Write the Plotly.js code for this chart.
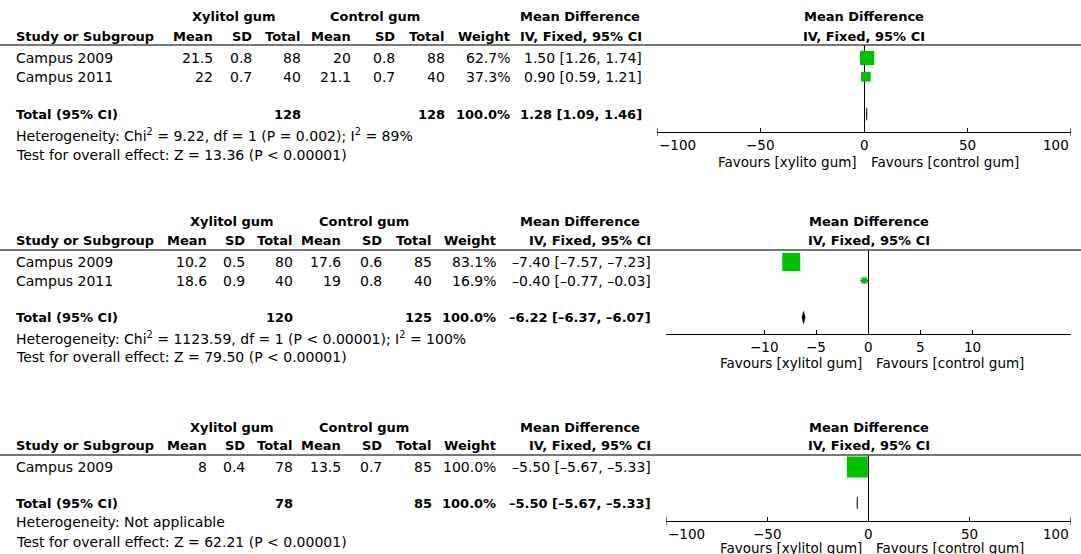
<!DOCTYPE html>
<html>
<head>
<meta charset="utf-8">
<script src="https://cdn.plot.ly/plotly-3.0.1.min.js"></script>
<style>html,body{margin:0;padding:0;background:#fff;}#chart{width:1081px;height:554px;}</style>
</head>
<body>
<div id="chart"></div>
<script>
// ---------- data ----------
const studyPanel = [0, 0, 1, 1, 2];
const studyName  = ["Campus 2009", "Campus 2011", "Campus 2009", "Campus 2011", "Campus 2009"];
const xylMean    = [21.5, 22, 10.2, 18.6, 8];
const xylSD      = [0.8, 0.7, 0.5, 0.9, 0.4];
const xylTotal   = [88, 40, 80, 40, 78];
const ctlMean    = [20, 21.1, 17.6, 19, 13.5];
const ctlSD      = [0.8, 0.7, 0.6, 0.8, 0.7];
const ctlTotal   = [88, 40, 85, 40, 85];
const weightPct  = [62.7, 37.3, 83.1, 16.9, 100.0];
const meanDiff   = [1.50, 0.90, -7.40, -0.40, -5.50];
const ciLow      = [1.26, 0.59, -7.57, -0.77, -5.67];
const ciHigh     = [1.74, 1.21, -7.23, -0.03, -5.33];

const totXyl     = [128, 120, 78];
const totCtl     = [128, 125, 85];
const totWeight  = [100.0, 100.0, 100.0];
const totMD      = [1.28, -6.22, -5.50];
const totLow     = [1.09, -6.37, -5.67];
const totHigh    = [1.46, -6.07, -5.33];

const heterogeneity = [
  "Heterogeneity: Chi<sup>2</sup> = 9.22, df = 1 (P = 0.002); I<sup>2</sup> = 89%",
  "Heterogeneity: Chi<sup>2</sup> = 1123.59, df = 1 (P < 0.00001); I<sup>2</sup> = 100%",
  "Heterogeneity: Not applicable"
];
const overallEffect = [
  "Test for overall effect: Z = 13.36 (P < 0.00001)",
  "Test for overall effect: Z = 79.50 (P < 0.00001)",
  "Test for overall effect: Z = 62.21 (P < 0.00001)"
];
const favoursLeft  = ["Favours [xylito gum]", "Favours [xylitol gum]", "Favours [xylitol gum]"];
const favoursRight = ["Favours [control gum]", "Favours [control gum]", "Favours [control gum]"];
const tickVals = [[-100, -50, 0, 50, 100], [-10, -5, 0, 5, 10], [-100, -50, 0, 50, 100]];
const colHeaders = ["Mean", "SD", "Total", "Mean", "SD", "Total", "Weight", "IV, Fixed, 95% CI"];

// ---------- layout geometry (pixels) ----------
const W = 1081, H = 554;
const FONT = "DejaVu Sans";
const geo = [
  {h1: 17, h2: 36, line: 45, row0: 58, sp: 18.7, het: 135, test: 155, axisY: 132, favY: 162,
   cols: [215, 254, 303, 353, 397, 447, 512, 644], xylC: 234, ctlC: 375, mdL: 518,
   dom: [657, 1071], range: [-100, 100], caps: true},
  {h1: 222, h2: 241, line: 250, row0: 262, sp: 18.5, het: 338, test: 357, axisY: 334, favY: 363,
   cols: [209, 247, 295, 343, 384, 434, 498, 653], xylC: 232, ctlC: 364, mdL: 518,
   dom: [666, 1071], range: [-19.4, 19.4], caps: false},
  {h1: 427, h2: 445, line: 455, row0: 467, sp: 18, het: 522, test: 542, axisY: 521, favY: 548,
   cols: [209, 247, 295, 343, 384, 434, 498, 653], xylC: 232, ctlC: 364, mdL: 518,
   dom: [666, 1071], range: [-100, 100], caps: true}
];

const fx = v => v / W;
const fy = v => 1 - v / H;
const dash = v => (v < 0 ? "\u2013" : "") + Math.abs(v).toFixed(2);
const ciStr = (m, l, h) => dash(m) + " [" + dash(l) + ", " + dash(h) + "]";
const tickStr = v => (v < 0 ? "\u2212" : "") + Math.abs(v);

function ann(text, x, y, anchor, bold, extra) {
  const a = {
    text: bold ? "<b>" + text + "</b>" : text,
    xref: "paper", yref: "paper", x: fx(x), y: fy(y),
    xanchor: anchor, yanchor: "middle", showarrow: false,
    font: {family: FONT, size: bold ? 13 : 14, color: "#000"}
  };
  return Object.assign(a, extra || {});
}

const annotations = [];
const shapes = [];
const traces = [];
const layout = {
  width: W, height: H,
  margin: {l: 0, r: 0, t: 0, b: 0},
  paper_bgcolor: "#fff", plot_bgcolor: "rgba(0,0,0,0)",
  showlegend: false,
  font: {family: FONT, color: "#000"}
};

geo.forEach((g, p) => {
  const sfx = p === 0 ? "" : String(p + 1);
  const xa = "x" + sfx, ya = "y" + sfx;
  const idx = studyPanel.map((v, i) => v === p ? i : -1).filter(i => i >= 0);
  const nRows = idx.length;
  const rowPx = r => g.row0 + r * g.sp;
  const totalRow = nRows + 1;

  // header line
  shapes.push({type: "line", xref: "paper", yref: "paper", x0: 0, x1: 1, y0: fy(g.line), y1: fy(g.line),
    line: {color: "#4a4a4a", width: 1.5}});

  // headers
  annotations.push(ann("Xylitol gum", g.xylC, g.h1, "center", true));
  annotations.push(ann("Control gum", g.ctlC, g.h1, "center", true));
  annotations.push(ann("Mean Difference", g.mdL, g.h1, "left", true));
  annotations.push(ann("Study or Subgroup", 14, g.h2, "left", true));
  colHeaders.forEach((c, k) => annotations.push(ann(c, g.cols[k], g.h2, "right", true)));
  annotations.push(ann("<b>Mean Difference</b>", 0, g.h1, "center", false,
    {xref: xa, x: 0, font: {family: FONT, size: 13, color: "#000"}}));
  annotations.push(ann("<b>IV, Fixed, 95% CI</b>", 0, g.h2, "center", false,
    {xref: xa, x: 0, font: {family: FONT, size: 13, color: "#000"}}));

  // study rows
  idx.forEach((i, r) => {
    const y = rowPx(r);
    const vals = [String(xylMean[i]), xylSD[i].toFixed(1), String(xylTotal[i]),
                  String(ctlMean[i]), ctlSD[i].toFixed(1), String(ctlTotal[i]),
                  weightPct[i].toFixed(1) + "%", ciStr(meanDiff[i], ciLow[i], ciHigh[i])];
    annotations.push(ann(studyName[i], 14, y, "left", false));
    vals.forEach((v, k) => annotations.push(ann(v, g.cols[k], y, "right", false)));
  });

  // total row
  const ty = rowPx(totalRow);
  annotations.push(ann("Total (95% CI)", 14, ty, "left", true));
  annotations.push(ann(String(totXyl[p]), g.cols[2], ty, "right", true));
  annotations.push(ann(String(totCtl[p]), g.cols[5], ty, "right", true));
  annotations.push(ann(totWeight[p].toFixed(1) + "%", g.cols[6], ty, "right", true));
  annotations.push(ann(ciStr(totMD[p], totLow[p], totHigh[p]), g.cols[7], ty, "right", true));
  annotations.push(ann(heterogeneity[p], 14, g.het, "left", false));
  annotations.push(ann(overallEffect[p], 14, g.test, "left", false));

  // tick labels (end labels kept inside the axis like the original)
  tickVals[p].forEach(v => {
    let anchor = "center";
    if (g.caps && v === g.range[0]) anchor = "left";
    if (g.caps && v === g.range[1]) anchor = "right";
    annotations.push(ann(tickStr(v), 0, g.axisY + 13, anchor, false,
      {xref: xa, x: v, font: {family: FONT, size: 13.5, color: "#000"}}));
  });

  // favours labels
  annotations.push(ann(favoursLeft[p], 0, g.favY, "right", false,
    {xref: xa, x: 0, xshift: -5, font: {family: FONT, size: 13.5, color: "#000"}}));
  annotations.push(ann(favoursRight[p], 0, g.favY, "left", false,
    {xref: xa, x: 0, xshift: 5, font: {family: FONT, size: 13.5, color: "#000"}}));

  // axes
  layout["xaxis" + sfx] = {
    domain: [fx(g.dom[0]), fx(g.dom[1])], range: g.range, anchor: ya,
    showline: true, linecolor: "#000", linewidth: 1, mirror: false,
    ticks: "inside", ticklen: 4, tickwidth: 1, tickcolor: "#000",
    tickmode: "array", tickvals: tickVals[p], showticklabels: false,
    showgrid: false, zeroline: true, zerolinecolor: "#000", zerolinewidth: 1,
    fixedrange: true
  };
  layout["yaxis" + sfx] = {
    domain: [fy(g.axisY), fy(g.line)],
    range: [(g.axisY - g.row0) / g.sp, (g.line - g.row0) / g.sp],
    anchor: xa, visible: false, showgrid: false, zeroline: false, fixedrange: true
  };

  if (g.caps) {
    [g.range[0], g.range[1]].forEach(v => shapes.push({type: "line", xref: xa, yref: "paper",
      x0: v, x1: v, y0: fy(g.axisY - 4), y1: fy(g.axisY + 4), line: {color: "#000", width: 1}}));
  }

  // confidence interval lines (under the squares)
  const cx = [], cy = [];
  idx.forEach((i, r) => { cx.push(ciLow[i], ciHigh[i], null); cy.push(r, r, null); });
  traces.push({
    type: "scatter", mode: "lines", xaxis: xa, yaxis: ya, x: cx, y: cy,
    line: {color: "#000", width: 1}, hoverinfo: "skip", connectgaps: false
  });

  // study squares
  traces.push({
    type: "scatter", mode: "markers", xaxis: xa, yaxis: ya,
    x: idx.map(i => meanDiff[i]),
    y: idx.map((i, r) => r),
    marker: {symbol: "square", color: "#00c000", opacity: 1,
      size: idx.map(i => 3 + 0.18 * weightPct[i]), line: {width: 0}},
    cliponaxis: false, hoverinfo: "skip"
  });

  // total diamond
  const dh = 0.33;
  traces.push({
    type: "scatter", mode: "lines", xaxis: xa, yaxis: ya,
    x: [totLow[p], totMD[p], totHigh[p], totMD[p], totLow[p]],
    y: [totalRow, totalRow - dh, totalRow, totalRow + dh, totalRow],
    fill: "toself", fillcolor: "#000", line: {color: "#000", width: 0.6},
    hoverinfo: "skip"
  });
});

layout.annotations = annotations;
layout.shapes = shapes;

Plotly.newPlot("chart", traces, layout, {displayModeBar: false, staticPlot: true});
</script>
</body>
</html>
